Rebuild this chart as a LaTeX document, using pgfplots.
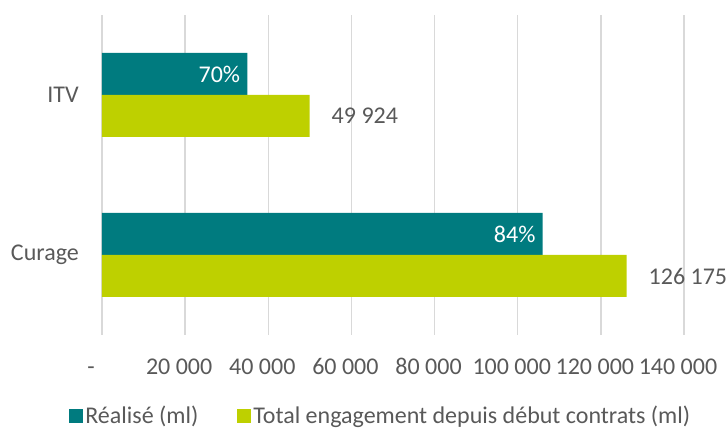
\documentclass[border=0pt]{standalone}
\usepackage{fontspec}
\setmainfont{Carlito}
\usepackage{pgfplots}
\pgfplotsset{compat=1.18}
\definecolor{realise}{RGB}{0,123,127}
\definecolor{engage}{RGB}{190,208,0}
\definecolor{txt}{RGB}{89,89,89}
\definecolor{grille}{RGB}{217,217,217}
\newcommand{\lbl}{\fontsize{24}{28}\selectfont}

\begin{document}
\begin{tikzpicture}[x=1pt,y=1pt]
\path[use as bounding box] (0,0) rectangle (726,430);
\begin{axis}[
  at={(102pt,95pt)}, anchor=south west,
  scale only axis, width=582pt, height=320pt,
  xbar, bar width=42pt,
  xmin=0, xmax=140000, ymin=-0.5, ymax=1.5,
  axis line style={draw=none},
  scaled x ticks=false,
  xtick={0,20000,40000,60000,80000,100000,120000,140000},
  xticklabels={-\rule{10pt}{0pt},20 000,40 000,60 000,80 000,100 000,120 000,140 000},
  ytick={0,1}, yticklabels={Curage,ITV},
  major tick length=0pt,
  xmajorgrids, grid style={grille,line width=1.5pt},
  tick label style={font=\lbl, text=txt},
  xticklabel style={anchor=base, yshift=-40pt, xshift=-6pt, inner sep=0pt},
  yticklabel style={anchor=east, xshift=-23pt, inner sep=0pt},
  legend columns=2,
  legend style={at={(0.479,-0.252)}, anchor=center, draw=none, fill=none,
    font=\lbl, text=txt, cells={anchor=west}, inner xsep=2.5pt,
    /tikz/every even column/.append style={column sep=37pt}},
  legend image code/.code={\fill[#1] (0pt,-7pt) rectangle (14pt,7pt);},
  point meta=explicit symbolic,
]
\addplot[fill=realise, draw=none, bar shift=21pt,
  nodes near coords,
  nodes near coords style={anchor=east, text=white, xshift=-7pt, inner sep=0pt, font=\lbl}]
  coordinates {(105987,0)[84\%] (34947,1)[70\%]};
\addlegendentry{Réalisé (ml)}
\addplot[fill=engage, draw=none, bar shift=-21pt,
  nodes near coords,
  nodes near coords style={anchor=west, text=txt, xshift=22pt, inner sep=0pt, font=\lbl}]
  coordinates {(126175,0)[126 175] (49924,1)[49 924]};
\addlegendentry{Total engagement depuis début contrats (ml)}
\end{axis}
\end{tikzpicture}
\end{document}
